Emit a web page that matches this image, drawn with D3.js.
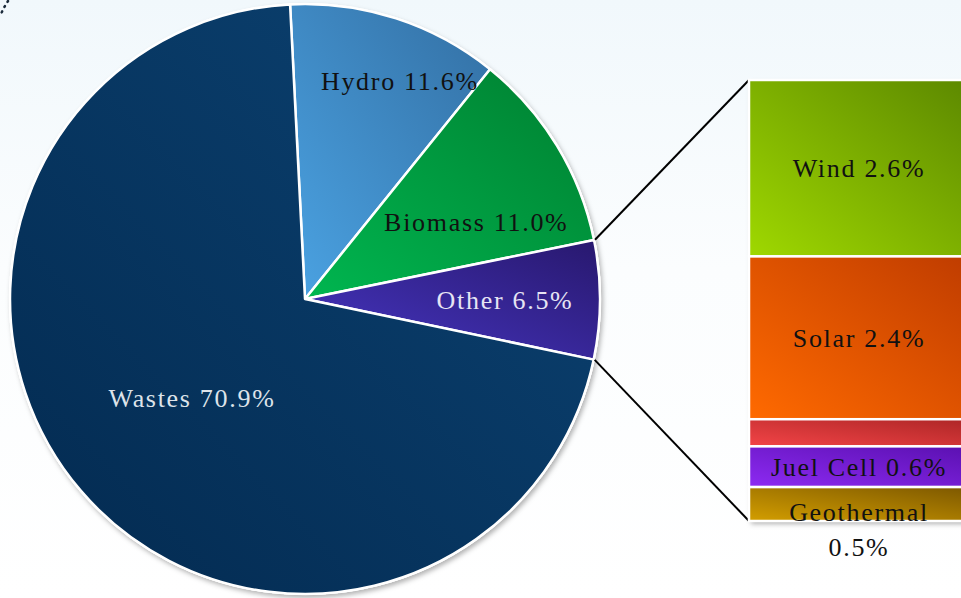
<!DOCTYPE html>
<html>
<head>
<meta charset="utf-8">
<script src="https://cdn.jsdelivr.net/npm/d3@7"></script>
<style>
  html, body { margin: 0; padding: 0; background: #fff; overflow: hidden; }
  text { font-family: "Liberation Serif", "DejaVu Serif", serif; }
</style>
</head>
<body>
<svg id="chart" width="961" height="598"></svg>
<script>
// pie data
let pieNames = ["Hydro", "Biomass", "Other", "Wastes"];
let pieValues = [11.6, 11.0, 6.5, 70.9];
let pieColors = [["#4ba3e3", "#336fa3"], ["#00b650", "#007f30"], ["#4736c4", "#28186e"], ["#032a50", "#0c4373"]];
let pieTextColors = ["#111", "#111", "#e6e4f4", "#dde3ea"];

// breakdown of "Other"
let barNames = ["Wind", "Solar", "Tidal", "Juel Cell", "Geothermal"];
let barValues = [2.6, 2.4, 0.4, 0.6, 0.5];
let barColors = [["#9fd800", "#5c8800"], ["#ff6a00", "#bf3c00"], ["#f34447", "#ad2626"], ["#8d2af2", "#5a10b0"], ["#d39e00", "#7c5700"]];

let width = 961, height = 598;
let cx = 305, cy = 299, radius = 295;
let startDeg = -2.9;
let fontSize = 26, spacing = 1.7;

// label placement (radius, angle shift in deg) per slice
let labelPos = {Hydro: [238, 5.5], Biomass: [188, 7], Other: [200, 0], Wastes: [150, -0.6]};

let svg = d3.select("#chart");
let defs = svg.append("defs");

let bg = defs.append("linearGradient").attr("id", "bg").attr("x1", 0).attr("y1", 0).attr("x2", 0).attr("y2", 1);
bg.append("stop").attr("offset", "0%").attr("stop-color", "#f1f8fc");
bg.append("stop").attr("offset", "45%").attr("stop-color", "#fbfdfe");
bg.append("stop").attr("offset", "100%").attr("stop-color", "#ffffff");
svg.append("rect").attr("width", width).attr("height", height).attr("fill", "url(#bg)");

let shadow = defs.append("filter").attr("id", "shadow").attr("x", "-10%").attr("y", "-10%").attr("width", "130%").attr("height", "130%");
shadow.append("feDropShadow").attr("dx", 2).attr("dy", 3).attr("stdDeviation", 2.5)
    .attr("flood-color", "#000").attr("flood-opacity", 0.3);

function grad(id, c) {
    let g = defs.append("linearGradient").attr("id", id)
        .attr("x1", 0).attr("y1", 1).attr("x2", 1).attr("y2", 0);
    g.append("stop").attr("offset", "0%").attr("stop-color", c[0]);
    g.append("stop").attr("offset", "100%").attr("stop-color", c[1]);
}
pieColors.forEach(function (c, i) { grad("pg" + i, c); });
barColors.forEach(function (c, i) { grad("bg" + i, c); });

// decorative dotted arc at top-left
svg.append("path")
    .attr("d", "M8,1 Q4,7 1,14")
    .attr("fill", "none").attr("stroke", "#1a2a3a").attr("stroke-width", 2.5)
    .attr("stroke-dasharray", "1 5").attr("stroke-linecap", "round");

let rad = Math.PI / 180;
let pie = d3.pie().sort(null)
    .startAngle(startDeg * rad).endAngle(startDeg * rad + 2 * Math.PI);
let arcs = pie(pieValues);
let arc = d3.arc().innerRadius(0).outerRadius(radius);

let g = svg.append("g").attr("transform", "translate(" + cx + "," + cy + ")");
g.append("circle").attr("r", radius + 1).attr("fill", "#fff").attr("filter", "url(#shadow)");

g.selectAll("path.slice").data(arcs).enter().append("path")
    .attr("class", "slice")
    .attr("d", arc)
    .attr("fill", function (d, i) { return "url(#pg" + i + ")"; })
    .attr("stroke", "#fff").attr("stroke-width", 2.5).attr("stroke-linejoin", "round");

g.selectAll("text.plabel").data(arcs).enter().append("text")
    .attr("class", "plabel")
    .attr("transform", function (d, i) {
        let p = labelPos[pieNames[i]];
        let a = (d.startAngle + d.endAngle) / 2 + p[1] * rad;
        return "translate(" + (Math.sin(a) * p[0]) + "," + (-Math.cos(a) * p[0]) + ")";
    })
    .attr("text-anchor", "middle").attr("dy", "0.35em")
    .attr("font-size", fontSize).attr("letter-spacing", spacing)
    .attr("fill", function (d, i) { return pieTextColors[i]; })
    .text(function (d, i) { return pieNames[i] + " " + d3.format(".1f")(pieValues[i]) + "%"; });

// stacked bar
let barX = 749, barW = 222;
let y = d3.scaleLinear().domain([0, d3.sum(barValues)]).range([80, 521]);
let cum = [0];
barValues.forEach(function (v, i) { cum.push(cum[i] + v); });

// connector lines from the "Other" slice to the bar
let other = arcs[pieNames.indexOf("Other")];
let lines = [[other.startAngle, y(0)], [other.endAngle, y(d3.sum(barValues))]];
svg.selectAll("line.conn").data(lines).enter().append("line")
    .attr("class", "conn")
    .attr("x1", function (d) { return cx + Math.sin(d[0]) * (radius + 1); })
    .attr("y1", function (d) { return cy - Math.cos(d[0]) * (radius + 1); })
    .attr("x2", barX).attr("y2", function (d) { return d[1]; })
    .attr("stroke", "#000").attr("stroke-width", 2);

let bar = svg.append("g");
bar.append("rect").attr("x", barX).attr("y", y(0)).attr("width", barW).attr("height", y(d3.sum(barValues)) - y(0))
    .attr("fill", "#fff").attr("filter", "url(#shadow)");
bar.selectAll("rect.seg").data(barValues).enter().append("rect")
    .attr("class", "seg")
    .attr("x", barX).attr("width", barW)
    .attr("y", function (d, i) { return y(cum[i]); })
    .attr("height", function (d, i) { return y(cum[i + 1]) - y(cum[i]); })
    .attr("fill", function (d, i) { return "url(#bg" + i + ")"; })
    .attr("stroke", "#fff").attr("stroke-width", 2.5);

barValues.forEach(function (v, i) {
    if (v < 0.45) return;
    let mid = (y(cum[i]) + y(cum[i + 1])) / 2;
    let t = bar.append("text")
        .attr("x", barX + barW / 2 - 1).attr("text-anchor", "middle")
        .attr("font-size", fontSize).attr("letter-spacing", spacing).attr("fill", "#111");
    let label = barNames[i] + " " + d3.format(".1f")(v) + "%";
    if (barNames[i] === "Geothermal") {
        t.attr("y", mid + 17).text(barNames[i]);
        bar.append("text").attr("x", barX + barW / 2 - 1).attr("y", mid + 52).attr("text-anchor", "middle")
            .attr("font-size", fontSize).attr("letter-spacing", spacing).attr("fill", "#111")
            .text(d3.format(".1f")(v) + "%");
    } else {
        t.attr("y", mid).attr("dy", "0.35em").text(label);
    }
});
</script>
</body>
</html>
